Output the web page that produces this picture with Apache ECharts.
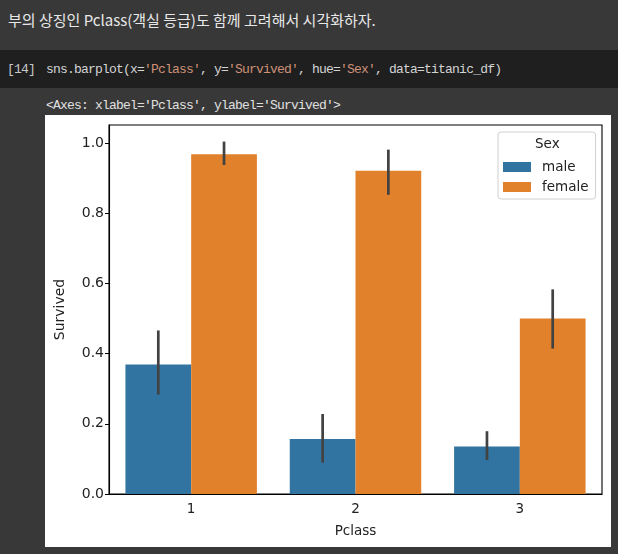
<!DOCTYPE html>
<html>
<head>
<meta charset="utf-8">
<script src="https://cdn.jsdelivr.net/npm/echarts@6/dist/echarts.min.js"></script>
<style>
  html, body { margin: 0; padding: 0; }
  body { width: 618px; height: 554px; background: #383838; position: relative; overflow: hidden; }
  .heading { position: absolute; left: 8px; top: 8px; color: #e8e8e8;
    font-family: "Noto Sans CJK KR", "Noto Sans", sans-serif; font-size: 15px; line-height: 24px; white-space: nowrap; }
  .code-band { position: absolute; left: 0; top: 50px; width: 618px; height: 38px; background: #1f1f1f; }
  .mono { position: absolute; font-family: "Liberation Mono", "DejaVu Sans Mono", monospace;
    font-size: 13px; letter-spacing: -0.8px; white-space: nowrap; line-height: 16px; }
  .prompt { left: 7px; top: 62px; color: #c8c8c8; }
  .code { left: 46px; top: 62px; color: #d4d4d4; }
  .str { color: #ce9178; }
  .out { left: 46px; top: 98px; color: #e0e0e0; }
  #chart { position: absolute; left: 45px; top: 115px; width: 566px; height: 432px; background: #fff; }
</style>
</head>
<body>
<div class="heading">부의 상징인 Pclass(객실 등급)도 함께 고려해서 시각화하자.</div>
<div class="code-band"></div>
<div class="mono prompt">[14]</div>
<div class="mono code">sns.barplot(x=<span class="str">'Pclass'</span>, y=<span class="str">'Survived'</span>, hue=<span class="str">'Sex'</span>, data=titanic_df)</div>
<div class="mono out">&lt;Axes: xlabel='Pclass', ylabel='Survived'&gt;</div>
<div id="chart"></div>
<script>
const pclass = ["1", "2", "3"];
const sexes = ["male", "female"];
const maleMean = [0.369, 0.157, 0.135];
const femaleMean = [0.968, 0.921, 0.500];
// 95% CI ends (error bars)
const maleLow = [0.287, 0.093, 0.101];
const maleHigh = [0.462, 0.224, 0.175];
const femaleLow = [0.941, 0.856, 0.418];
const femaleHigh = [1.0, 0.977, 0.579];
const yTicks = [0, 0.2, 0.4, 0.6, 0.8, 1.0];

const colors = { male: "#3274a1", female: "#e1812c" };
const font = "DejaVu Sans";

// error bar drawn over the middle of each hue bar
function errorBars(offset) {
  return function (params, api) {
    const lo = api.coord([api.value(0), api.value(1)]);
    const hi = api.coord([api.value(0), api.value(2)]);
    const band = api.size([1, 0])[0];
    const x = lo[0] + offset * band;
    return {
      type: "line",
      shape: { x1: x, y1: lo[1], x2: x, y2: hi[1] },
      style: { stroke: "#424242", lineWidth: 2.7, lineCap: "square" }
    };
  };
}

const chart = echarts.init(document.getElementById("chart"));
chart.setOption({
  animation: false,
  textStyle: { fontFamily: font },
  grid: {
    left: 61, right: 9, top: 10, bottom: 53,
    show: true, borderColor: "#000", borderWidth: 1.1, backgroundColor: "#fff"
  },
  legend: {
    data: sexes,
    orient: "vertical",
    left: 453, top: 17,
    icon: "rect",
    itemWidth: 28, itemHeight: 10, itemGap: 6,
    padding: [28, 7, 5, 5],
    borderColor: "#d0d0d0", borderWidth: 1, borderRadius: 3,
    backgroundColor: "rgba(255,255,255,0.8)",
    textStyle: { fontFamily: font, fontSize: 13.5, color: "#222", padding: [0, 0, 0, 6] }
  },
  graphic: [{
    type: "text", left: 490, top: 22, z: 100,
    style: { text: "Sex", fontFamily: font, fontSize: 13.5, fill: "#222" }
  }],
  xAxis: {
    type: "category",
    data: pclass,
    name: "Pclass",
    nameLocation: "middle",
    nameGap: 30,
    nameTextStyle: { fontFamily: font, fontSize: 13.5, color: "#222" },
    axisLine: { lineStyle: { color: "#000", width: 1.1 } },
    axisTick: { alignWithLabel: true, length: 4, lineStyle: { color: "#000" } },
    axisLabel: { fontFamily: font, fontSize: 13.5, color: "#222", margin: 8 }
  },
  yAxis: {
    type: "value",
    min: 0, max: 1.051, interval: 0.2,
    name: "Survived",
    nameLocation: "middle",
    nameGap: 42,
    nameTextStyle: { fontFamily: font, fontSize: 14, color: "#222" },
    splitLine: { show: false },
    axisLine: { show: true, lineStyle: { color: "#000", width: 1.1 } },
    axisTick: { show: true, length: 4, lineStyle: { color: "#000" } },
    axisLabel: {
      fontFamily: font, fontSize: 14, color: "#222", margin: 5,
      showMaxLabel: false,
      formatter: v => yTicks.some(t => Math.abs(t - v) < 1e-6) ? v.toFixed(1) : ""
    }
  },
  series: [
    { name: "male", type: "bar", data: maleMean, barWidth: "40%", barGap: "0%",
      itemStyle: { color: colors.male } },
    { name: "female", type: "bar", data: femaleMean, barWidth: "40%", barGap: "0%",
      itemStyle: { color: colors.female } },
    { type: "custom", renderItem: errorBars(-0.2), z: 5,
      data: pclass.map((c, i) => [i, maleLow[i], maleHigh[i]]) },
    { type: "custom", renderItem: errorBars(0.2), z: 5,
      data: pclass.map((c, i) => [i, femaleLow[i], femaleHigh[i]]) }
  ]
});
</script>
</body>
</html>
